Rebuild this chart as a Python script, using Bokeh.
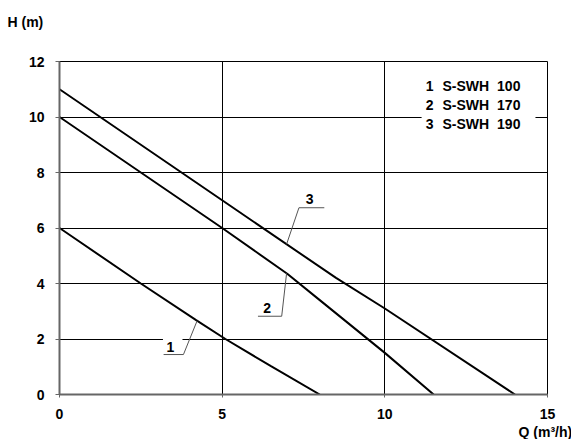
import numpy as np
from bokeh.plotting import figure
from bokeh.models import Label, FixedTicker, Range1d, Title
from bokeh.embed import file_html
from bokeh.resources import INLINE

# ---- data ----
q1 = [0.0, 2.5, 4.2, 5.1, 6.5, 8.0]
h1 = [6.0, 4.0, 2.68, 2.0, 1.02, 0.0]
q2 = [0.0, 5.0, 7.0, 8.0, 10.0, 11.5]
h2 = [10.0, 6.0, 4.35, 3.4, 1.5, 0.0]
q3 = [0.0, 5.0, 8.5, 10.0, 14.0]
h3 = [11.0, 7.0, 4.2, 3.1, 0.0]
curve_ids = ["1", "2", "3"]
models = ["S-SWH 100", "S-SWH 170", "S-SWH 190"]
x_ticks = [0, 5, 10, 15]
y_ticks = [0, 2, 4, 6, 8, 10, 12]
y_title = "H (m)"
x_title = "Q (m³/h)"

FONT = "Liberation Sans"
FS = "14px"

p = figure(width=571, height=439, x_range=Range1d(0, 15), y_range=Range1d(0, 12),
           output_backend="svg", toolbar_location=None,
           min_border_left=59, min_border_right=24, min_border_top=61, min_border_bottom=45)
p.outline_line_color = "black"
p.outline_line_width = 1
p.background_fill_color = "white"
p.border_fill_color = "white"

# blank spacer between the frame and the "H (m)" title
spacer = Title(text=" ", text_font_size="1px", standoff=29)
p.add_layout(spacer, "above")

# "H (m)" as the top-left title
p.title.text = y_title
p.title.align = "left"
p.title.offset = -52
p.title.standoff = 0
p.title.text_font = FONT
p.title.text_font_style = "bold"
p.title.text_font_size = "14px"
p.title.text_color = "black"

for ax, ticks, std in ((p.xaxis, x_ticks, 11), (p.yaxis, y_ticks, 11)):
    ax.ticker = FixedTicker(ticks=ticks)
    ax.minor_tick_line_color = None
    ax.axis_line_color = "#666666"
    ax.axis_line_width = 2
    ax.major_tick_line_color = "#666666"
    ax.major_tick_in = 0
    ax.major_label_text_font = FONT
    ax.major_label_text_font_style = "bold"
    ax.major_label_text_font_size = FS
    ax.major_label_text_color = "black"
    ax.major_label_standoff = std
p.xaxis.major_tick_out = 3
p.yaxis.major_tick_out = 4

# "Q (m³/h)" below the x axis, at the right
qt = Title(text=x_title, align="left", offset=459, standoff=0, text_font=FONT,
           text_font_style="bold", text_font_size="14px", text_color="black")
p.add_layout(qt, "below")

p.xgrid.ticker = FixedTicker(ticks=x_ticks)
p.ygrid.ticker = FixedTicker(ticks=y_ticks)
for g in (p.xgrid, p.ygrid):
    g.grid_line_color = "black"
    g.grid_line_width = 1
    g.grid_line_alpha = 1.0

# white boxes behind legend and callout "1"
p.quad(left=[11.13, 3.18], right=[14.63, 3.78], bottom=[9.30, 1.52], top=[11.6, 2.2],
       fill_color="white", line_color=None)

# curves
for qs, hs in ((q1, h1), (q2, h2), (q3, h3)):
    p.line(qs, hs, line_color="black", line_width=2)

# callouts: text pos, underline (x0,x1,y), leader end x on curve, leader start
callouts = [
    (curve_ids[0], 3.41, 1.70, 3.20, 3.81, 1.44, 4.23, 3.81, q1, h1),
    (curve_ids[1], 6.38, 3.11, 6.10, 6.83, 2.82, 6.98, 6.83, q2, h2),
    (curve_ids[2], 7.69, 7.05, 7.36, 8.14, 6.73, 6.98, 7.36, q3, h3),
]
for txt, tx, ty, u0, u1, uy, cx, lx, qs, hs in callouts:
    cy = float(np.interp(cx, qs, hs))
    p.line([u0, u1], [uy, uy], line_color="#555555", line_width=1)
    p.line([lx, cx], [uy, cy], line_color="#555555", line_width=1)
    p.add_layout(Label(x=tx, y=ty, text=txt, text_font=FONT, text_font_style="bold",
                       text_font_size=FS, text_color="black",
                       text_align="center", text_baseline="middle"))

# legend text
rows_y = [11.12, 10.43, 9.75]
for cid, name, ry in zip(curve_ids, models, rows_y):
    series, cap = name.split(" ")
    for xx, tt in ((11.26, cid), (11.77, series), (13.45, cap)):
        p.add_layout(Label(x=xx, y=ry, text=tt, text_font=FONT, text_font_style="bold",
                           text_font_size=FS, text_color="black",
                           text_align="left", text_baseline="middle"))

open("out.html", "w").write(file_html(p, INLINE))
